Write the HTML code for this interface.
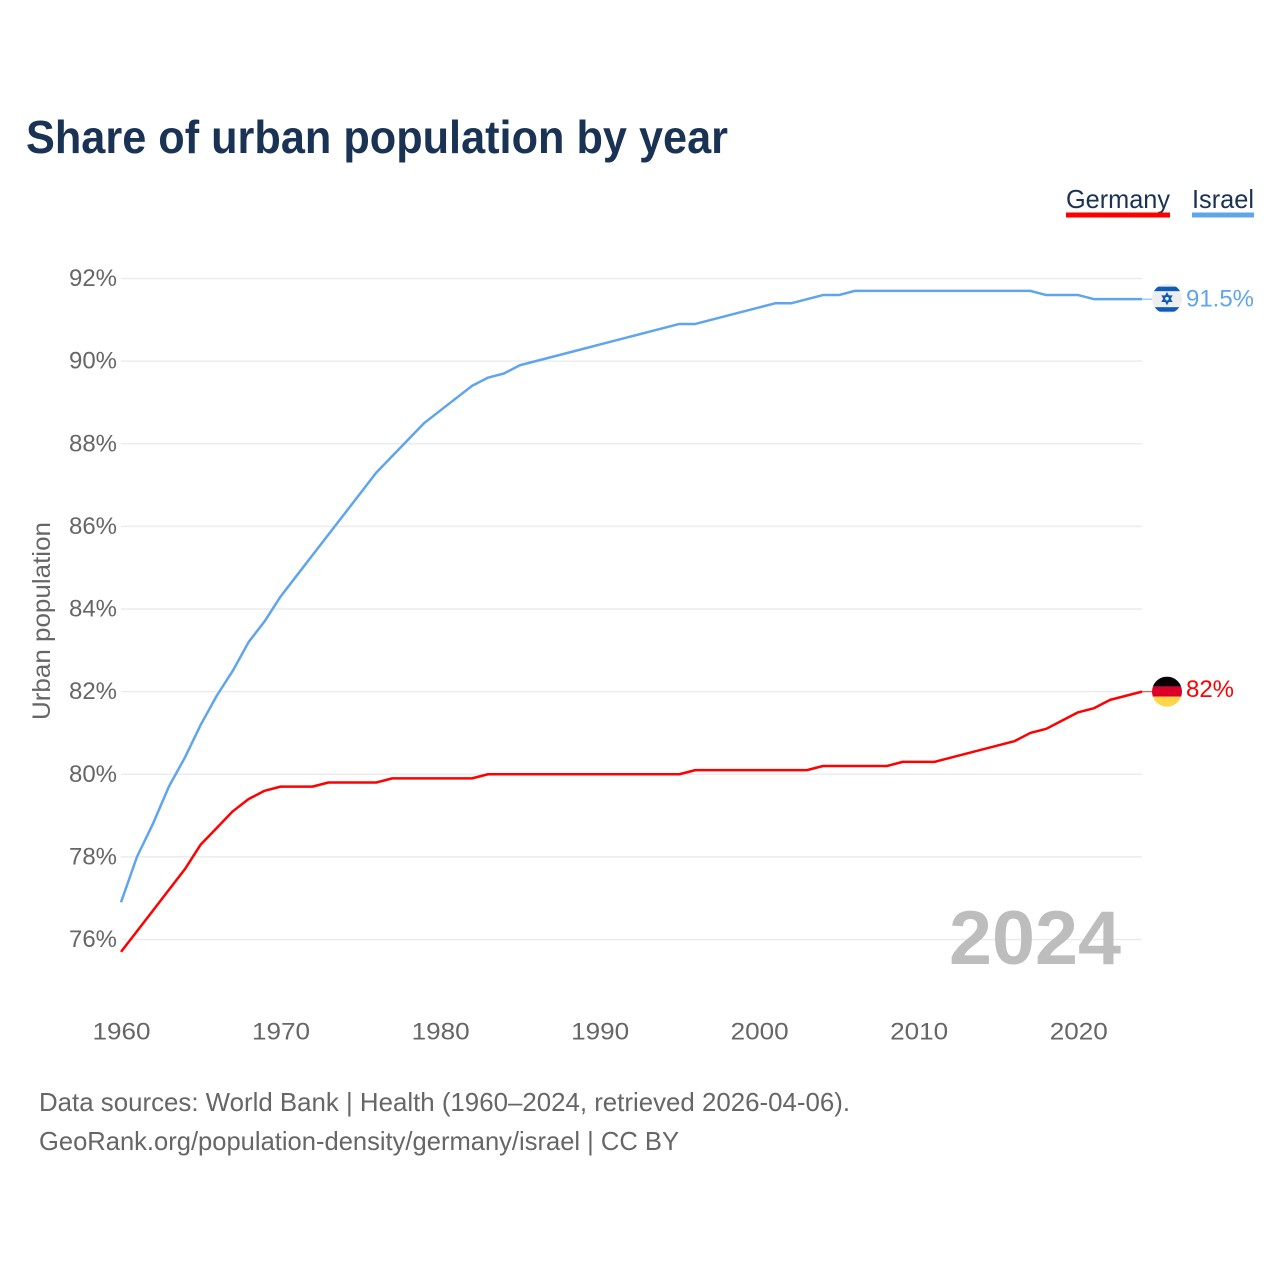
<!DOCTYPE html>
<html lang="en">
<head>
<meta charset="utf-8">
<title>Share of urban population by year</title>
<style>
html,body{margin:0;padding:0;background:#fff;width:1280px;height:1280px;overflow:hidden}
svg{display:block}
text{font-family:"Liberation Sans",sans-serif}
</style>
</head>
<body>
<svg id="chart" width="1280" height="1280" viewBox="0 0 1280 1280" xmlns="http://www.w3.org/2000/svg">
  <rect width="1280" height="1280" fill="#fff"/>
  <text x="26" y="153" font-size="46" font-weight="700" fill="#1a3354" textLength="702" lengthAdjust="spacingAndGlyphs">Share of urban population by year</text>
  <g>
    <g>
      <text x="1066" y="208" font-size="26" fill="#1a3354" textLength="104" lengthAdjust="spacingAndGlyphs">Germany</text>
      <rect x="1066" y="212.5" width="104" height="5" fill="#ff0000"/>
    </g>
    <g>
      <text x="1192" y="208" font-size="26" fill="#1a3354" textLength="62" lengthAdjust="spacingAndGlyphs">Israel</text>
      <rect x="1192" y="212.5" width="62" height="5" fill="#5fa5ec"/>
    </g>
  </g>
  <text transform="translate(50,621) rotate(-90)" text-anchor="middle" font-size="25" fill="#666" textLength="198" lengthAdjust="spacingAndGlyphs">Urban population</text>
  <g id="grid"></g>
  <g id="yticks"></g>
  <g id="xticks"></g>
  <text x="1121" y="964" text-anchor="end" font-size="76" font-weight="700" fill="#bdbdbd" textLength="172" lengthAdjust="spacingAndGlyphs">2024</text>
  <g id="series"></g>
  <g id="flag-israel">
    <clipPath id="clip-il"><circle cx="0" cy="0" r="15"/></clipPath>
    <g clip-path="url(#clip-il)">
      <rect x="-15" y="-15" width="30" height="30" fill="#eeeeee"/>
      <rect x="-15" y="-12" width="30" height="4.5" fill="#0f5bb5"/>
      <rect x="-15" y="8.5" width="30" height="4.5" fill="#0f5bb5"/>
      <path d="M0,-5 L4.3,2.5 L-4.3,2.5 Z M0,5 L4.3,-2.5 L-4.3,-2.5 Z" fill="none" stroke="#0f5bb5" stroke-width="1.6"/>
    </g>
  </g>
  <g id="flag-germany">
    <clipPath id="clip-de"><circle cx="0" cy="0" r="15"/></clipPath>
    <g clip-path="url(#clip-de)">
      <rect x="-15" y="-15" width="30" height="10" fill="#0a0005"/>
      <rect x="-15" y="-5" width="30" height="10" fill="#dc0028"/>
      <rect x="-15" y="5" width="30" height="10" fill="#ffd647"/>
    </g>
  </g>
  <text x="39" y="1111" font-size="26" fill="#666" textLength="811" lengthAdjust="spacingAndGlyphs">Data sources: World Bank | Health (1960–2024, retrieved 2026-04-06).</text>
  <text x="39" y="1150" font-size="26" fill="#666" textLength="640" lengthAdjust="spacingAndGlyphs">GeoRank.org/population-density/germany/israel | CC BY</text>
</svg>
<script>
const startYear = 1960;
const yTickValues = [76, 78, 80, 82, 84, 86, 88, 90, 92];
const xTickValues = [1960, 1970, 1980, 1990, 2000, 2010, 2020];
const israelValues = [
  76.9, 78.0, 78.8, 79.7, 80.4, 81.2, 81.9, 82.5, 83.2, 83.7,
  84.3, 84.8, 85.3, 85.8, 86.3, 86.8, 87.3, 87.7, 88.1, 88.5,
  88.8, 89.1, 89.4, 89.6, 89.7, 89.9, 90.0, 90.1, 90.2, 90.3,
  90.4, 90.5, 90.6, 90.7, 90.8, 90.9, 90.9, 91.0, 91.1, 91.2,
  91.3, 91.4, 91.4, 91.5, 91.6, 91.6, 91.7, 91.7, 91.7, 91.7,
  91.7, 91.7, 91.7, 91.7, 91.7, 91.7, 91.7, 91.7, 91.6, 91.6,
  91.6, 91.5, 91.5, 91.5, 91.5
];
const germanyValues = [
  75.7, 76.2, 76.7, 77.2, 77.7, 78.3, 78.7, 79.1, 79.4, 79.6,
  79.7, 79.7, 79.7, 79.8, 79.8, 79.8, 79.8, 79.9, 79.9, 79.9,
  79.9, 79.9, 79.9, 80.0, 80.0, 80.0, 80.0, 80.0, 80.0, 80.0,
  80.0, 80.0, 80.0, 80.0, 80.0, 80.0, 80.1, 80.1, 80.1, 80.1,
  80.1, 80.1, 80.1, 80.1, 80.2, 80.2, 80.2, 80.2, 80.2, 80.3,
  80.3, 80.3, 80.4, 80.5, 80.6, 80.7, 80.8, 81.0, 81.1, 81.3,
  81.5, 81.6, 81.8, 81.9, 82.0
];
const israelLabel = "91.5%";
const germanyLabel = "82%";

const NS = "http://www.w3.org/2000/svg";
function xScale(year) { return 121 + (year - 1960) * (1142 - 121) / 64; }
function yScale(v) { return 939.5 - (v - 76) * (939.5 - 278.5) / 16; }
function mk(tag, attrs, parent) {
  const el = document.createElementNS(NS, tag);
  for (const k in attrs) el.setAttribute(k, attrs[k]);
  parent.appendChild(el);
  return el;
}

const grid = document.getElementById("grid");
const yticks = document.getElementById("yticks");
yTickValues.forEach(function (v) {
  const line = mk("line", {x1: 121, x2: 1142, y1: yScale(v), y2: yScale(v), stroke: "#ececec", "stroke-width": 1.5}, grid);
  
  
  const t = mk("text", {x: 117, y: yScale(v) + 7.5, "text-anchor": "end", "font-size": 24, fill: "#666", textLength: 48, lengthAdjust: "spacingAndGlyphs"}, yticks);
  
  
  t.textContent = v + "%";
});

const xticks = document.getElementById("xticks");
xTickValues.forEach(function (yr) {
  const t = mk("text", {x: xScale(yr) + 0.5, y: 1039.5, "text-anchor": "middle", "font-size": 24, fill: "#666", textLength: 58, lengthAdjust: "spacingAndGlyphs"}, xticks);
  
  
  t.textContent = yr;
});

const seriesGroup = document.getElementById("series");
function drawSeries(values, color) {
  const d = values.map(function (v, i) {
    return (i ? "L" : "M") + xScale(startYear + i).toFixed(2) + "," + yScale(v).toFixed(2);
  }).join(" ");
  return mk("path", {d: d, fill: "none", stroke: color, "stroke-width": 2.5, "stroke-linejoin": "round"}, seriesGroup);
}
const israelPath = drawSeries(israelValues, "#5fa5ec");


const germanyPath = drawSeries(germanyValues, "#ff0000");



const lastIsraelY = yScale(israelValues[israelValues.length - 1]);
const lastGermanyY = yScale(germanyValues[germanyValues.length - 1]);

const israelLeader = mk("line", {x1: 1142, x2: 1152, y1: lastIsraelY, y2: lastIsraelY, stroke: "#5fa5ec", "stroke-width": 1.2, opacity: 0.7}, seriesGroup);


const germanyLeader = mk("line", {x1: 1142, x2: 1152, y1: lastGermanyY, y2: lastGermanyY, stroke: "#ff0000", "stroke-width": 1.2, opacity: 0.7}, seriesGroup);



document.getElementById("flag-israel").setAttribute("transform", "translate(1167," + (lastIsraelY - 0.5) + ")");
document.getElementById("flag-germany").setAttribute("transform", "translate(1167," + lastGermanyY + ")");

const israelEnd = mk("text", {x: 1186, y: lastIsraelY + 7.5, "font-size": 24, fill: "#5fa5ec", textLength: 68, lengthAdjust: "spacingAndGlyphs"}, seriesGroup);


israelEnd.textContent = israelLabel;
const germanyEnd = mk("text", {x: 1186, y: lastGermanyY + 5.5, "font-size": 24, fill: "#ff0000", textLength: 48, lengthAdjust: "spacingAndGlyphs"}, seriesGroup);


germanyEnd.textContent = germanyLabel;
</script>
</body>
</html>
